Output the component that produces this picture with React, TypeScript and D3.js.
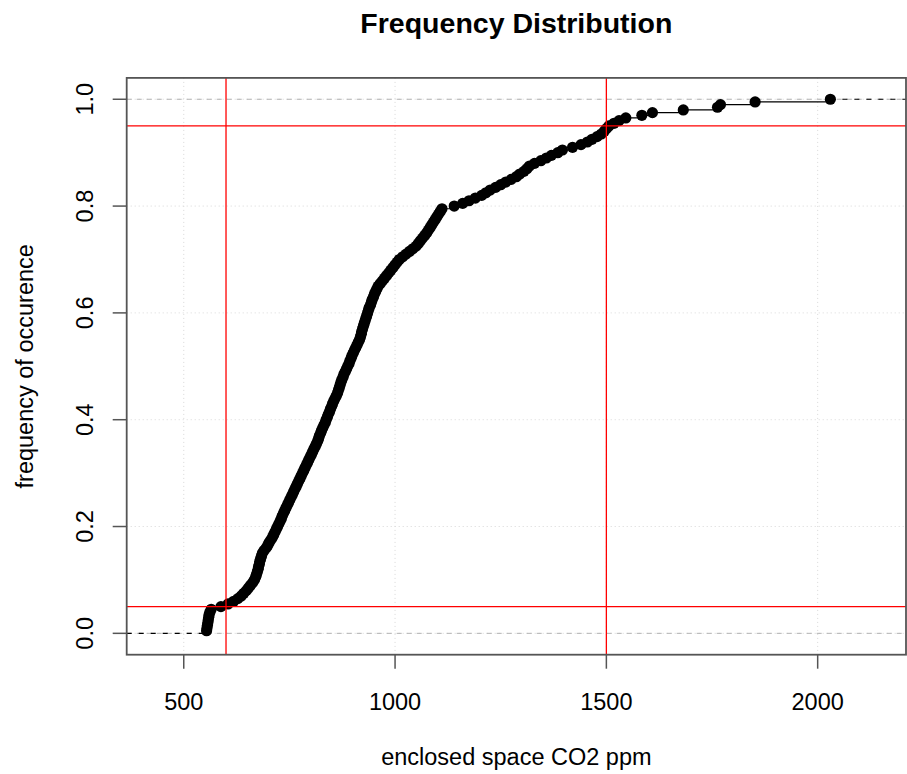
import React from "react";
import * as d3 from "d3";

const co2Values: number[] = [
  554, 555, 556, 557, 558, 559, 560, 562, 565, 588,
  605, 618, 628, 636, 642, 648, 653, 658, 663, 667,
  670, 672, 674, 676, 677, 679, 680, 682, 684, 686,
  690, 695, 699, 702, 706, 710, 713, 716, 719, 722,
  725, 728, 731, 733, 736, 739, 742, 745, 748, 751,
  754, 757, 760, 763, 766, 769, 772, 775, 778, 781,
  784, 787, 790, 793, 796, 799, 802, 805, 808, 811,
  814, 817, 819, 821, 824, 826, 829, 832, 835, 837,
  840, 842, 845, 847, 850, 852, 855, 858, 861, 864,
  866, 868, 870, 872, 874, 877, 879, 882, 885, 888,
  891, 893, 896, 898, 901, 904, 907, 910, 913, 916,
  918, 920, 921, 923, 925, 927, 929, 931, 933, 935,
  937, 939, 942, 944, 946, 949, 951, 954, 957, 960,
  965, 970, 975, 980, 985, 990, 995, 1000, 1005, 1010,
  1018, 1026, 1034, 1042, 1050, 1055, 1060, 1065, 1070, 1075,
  1079, 1083, 1087, 1091, 1095, 1099, 1103, 1107, 1111, 1140,
  1160, 1175, 1190, 1205, 1215, 1225, 1238, 1250, 1262, 1275,
  1287, 1295, 1305, 1312, 1318, 1330, 1345, 1358, 1370, 1385,
  1396, 1420, 1440, 1455, 1466, 1478, 1488, 1495, 1500, 1506,
  1518, 1530, 1546, 1584, 1609, 1682, 1763, 1770, 1852, 2030,
];

const xTicks: number[] = [500, 1000, 1500, 2000];
const yTicks: number[] = [0, 0.2, 0.4, 0.6, 0.8, 1.0];
const refVertical: number[] = [600, 1500];
const refHorizontal: number[] = [0.05, 0.95];
const xDomain: number[] = [365, 2209];
const yDomain: number[] = [-0.04, 1.04];

const titleText = "Frequency Distribution";
const xLabel = "enclosed space CO2 ppm";
const yLabel = "frequency of occurence";

const W = 907;
const H = 774;
const L = 126.7;
const R = 906;
const T = 77.9;
const B = 654.7;
const FONT = "'Liberation Sans', Arial, sans-serif";
const FS = 23.5;

export default function App() {
  const x = d3.scaleLinear().domain(xDomain).range([L, R]);
  const y = d3.scaleLinear().domain(yDomain).range([B, T]);
  const n = co2Values.length;
  const pts = co2Values.map((v, i) => ({ v, p: (i + 1) / n }));

  const stepPath = d3.path();
  for (let i = 0; i < n - 1; i++) {
    stepPath.moveTo(x(pts[i].v), y(pts[i].p));
    stepPath.lineTo(x(pts[i + 1].v), y(pts[i].p));
  }

  const frame = "#555";

  return (
    <svg
      width={W}
      height={H}
      style={{ position: "absolute", left: 0, top: 0, background: "#fff" }}
      fontFamily={FONT}
    >
      <defs>
        <clipPath id="plotclip">
          <rect x={L} y={T} width={R - L} height={B - T} />
        </clipPath>
      </defs>
      <rect x={0} y={0} width={W} height={H} fill="#fff" />
      {/* grid */}
      <g stroke="#d8d8d8" strokeWidth={1} strokeDasharray="1,3">
        {xTicks.map((t) => (
          <line key={"gx" + t} x1={x(t)} x2={x(t)} y1={T} y2={B} />
        ))}
        {yTicks.map((t) => (
          <line key={"gy" + t} x1={L} x2={R} y1={y(t)} y2={y(t)} />
        ))}
      </g>
      <g clipPath="url(#plotclip)">
        {/* gray reference lines at 0 and 1 */}
        {[0, 1].map((h) => (
          <line
            key={"h" + h}
            x1={L}
            x2={R}
            y1={y(h)}
            y2={y(h)}
            stroke="#b3b3b3"
            strokeWidth={1}
            strokeDasharray="5,5"
          />
        ))}
        {/* extensions */}
        <line
          x1={L}
          x2={x(pts[0].v)}
          y1={y(0)}
          y2={y(0)}
          stroke="#000"
          strokeWidth={1.2}
          strokeDasharray="5,7"
        />
        <line
          x1={x(pts[n - 1].v)}
          x2={R}
          y1={y(1)}
          y2={y(1)}
          stroke="#000"
          strokeWidth={1.2}
          strokeDasharray="5,7"
        />
        <path d={stepPath.toString()} stroke="#000" strokeWidth={1.2} fill="none" />
        {pts.map((d, i) => (
          <circle key={i} cx={x(d.v)} cy={y(d.p)} r={5.6} fill="#000" />
        ))}
        {/* red reference lines */}
        {refVertical.map((v) => (
          <line key={"rv" + v} x1={x(v)} x2={x(v)} y1={T} y2={B} stroke="#ff0000" strokeWidth={1.3} />
        ))}
        {refHorizontal.map((h) => (
          <line key={"rh" + h} x1={L} x2={R} y1={y(h)} y2={y(h)} stroke="#ff0000" strokeWidth={1.3} />
        ))}
      </g>
      {/* frame */}
      <rect x={L} y={T} width={R - L} height={B - T} fill="none" stroke={frame} strokeWidth={1.8} />
      {/* x axis */}
      {xTicks.map((t) => (
        <g key={"xt" + t}>
          <line x1={x(t)} x2={x(t)} y1={B} y2={B + 14} stroke={frame} strokeWidth={1.5} />
          <text x={x(t)} y={710} textAnchor="middle" fontSize={FS} fill="#000">
            {t}
          </text>
        </g>
      ))}
      {/* y axis */}
      {yTicks.map((t) => (
        <g key={"yt" + t}>
          <line x1={L - 14} x2={L} y1={y(t)} y2={y(t)} stroke={frame} strokeWidth={1.5} />
          <text
            transform={`translate(93,${y(t)}) rotate(-90)`}
            textAnchor="middle"
            fontSize={FS}
            fill="#000"
          >
            {d3.format(".1f")(t)}
          </text>
        </g>
      ))}
      <text x={(L + R) / 2} y={33} textAnchor="middle" fontSize={28.5} fontWeight="bold" fill="#000">
        {titleText}
      </text>
      <text x={(L + R) / 2} y={765} textAnchor="middle" fontSize={FS} fill="#000">
        {xLabel}
      </text>
      <text
        transform={`translate(33,${(T + B) / 2}) rotate(-90)`}
        textAnchor="middle"
        fontSize={FS}
        fill="#000"
      >
        {yLabel}
      </text>
    </svg>
  );
}
